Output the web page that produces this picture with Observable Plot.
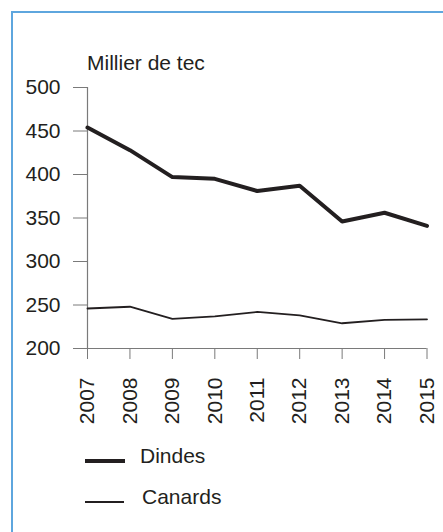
<!DOCTYPE html>
<html>
<head>
<meta charset="utf-8">
<script src="https://cdn.jsdelivr.net/npm/d3@7"></script>
<script src="https://cdn.jsdelivr.net/npm/@observablehq/plot@0.6"></script>
<style>
  html, body { margin: 0; padding: 0; background: #fff; overflow: hidden; }
  #wrap { position: relative; width: 443px; height: 532px; overflow: hidden; font-family: "Liberation Sans", Arial, sans-serif; color: #231f20; }
  #frame { position: absolute; left: 11px; top: 11px; width: 600px; height: 700px; border-left: 2px solid #5ea6de; border-top: 2px solid #5ea6de; }
  #title { position: absolute; left: 87px; top: 52px; font-size: 21px; line-height: 21px; white-space: nowrap; }
  #chart { position: absolute; left: 0; top: 0; }
  .leg { position: absolute; font-size: 21px; line-height: 21px; white-space: nowrap; }
  .sw { position: absolute; background: #231f20; }
</style>
</head>
<body>
<div id="wrap">
  <div id="frame"></div>
  <div id="chart"></div>
  <div id="title">Millier de tec</div>
  <div class="sw" style="left:85px; top:458.5px; width:40px; height:4px;"></div>
  <div class="leg" style="left:140px; top:445px;">Dindes</div>
  <div class="sw" style="left:85px; top:501px; width:39px; height:1.6px;"></div>
  <div class="leg" style="left:142px; top:486px;">Canards</div>
</div>
<script>
const years = [2007, 2008, 2009, 2010, 2011, 2012, 2013, 2014, 2015];
const dindes = [454, 428, 397, 395, 381, 387, 346, 356, 341];
const canards = [246, 248, 234, 237, 242, 238, 229, 233, 233.5];
const yTicks = [200, 250, 300, 350, 400, 450, 500];

const rows = years.flatMap((yr, i) => [
  {year: yr, value: dindes[i], serie: "Dindes"},
  {year: yr, value: canards[i], serie: "Canards"}
]);

const ink = "#231f20";
const axisGray = "#7a7a7a";

const chart = Plot.plot({
  width: 443,
  height: 440,
  marginLeft: 87,
  marginRight: 16.5,
  marginTop: 87,
  marginBottom: 92,
  style: {fontFamily: "'Liberation Sans', Arial, sans-serif", fontSize: "21px", color: ink, background: "transparent"},
  x: {type: "linear", domain: [2007, 2015]},
  y: {domain: [200, 500]},
  marks: [
    Plot.axisY({ticks: yTicks, tickSize: 14, tickPadding: 13, stroke: axisGray, fill: ink, fontSize: 21, label: null}),
    Plot.axisX({ticks: years, tickSize: 11, tickPadding: 18, tickRotate: -90, tickFormat: d => String(d), stroke: axisGray, fill: ink, fontSize: 21, label: null}),
    Plot.ruleX([2007], {y1: 200, y2: 500, stroke: axisGray, strokeWidth: 1.2}),
    Plot.ruleY([200], {x1: 2007, x2: 2015, stroke: axisGray, strokeWidth: 1.2}),
    Plot.line(rows.filter(d => d.serie === "Canards"), {x: "year", y: "value", stroke: ink, strokeWidth: 1.8}),
    Plot.line(rows.filter(d => d.serie === "Dindes"), {x: "year", y: "value", stroke: ink, strokeWidth: 4})
  ]
});
document.getElementById("chart").appendChild(chart);
</script>
</body>
</html>
